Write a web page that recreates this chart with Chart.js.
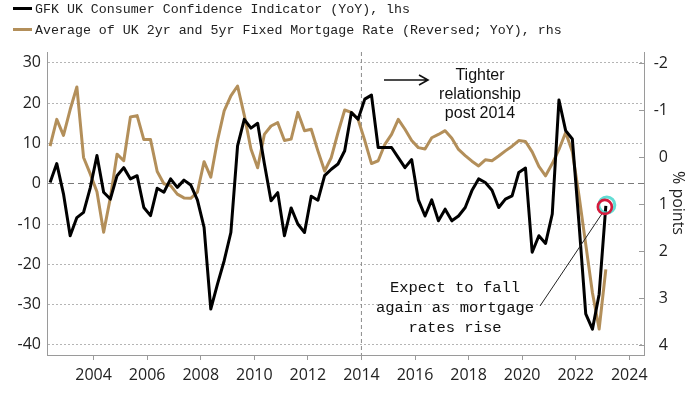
<!DOCTYPE html>
<html>
<head>
<meta charset="utf-8">
<title>GFK UK Consumer Confidence vs Mortgage Rates</title>
<script src="https://cdn.jsdelivr.net/npm/chart.js@4.4.0/dist/chart.umd.min.js"></script>
<style>
    html, body { margin: 0; padding: 0; background: #fff; }
    #wrap { position: relative; width: 700px; height: 394px; overflow: hidden; }
    #chart { position: absolute; left: 0; top: 0; }
    .legend { position: absolute; left: 13px; font: 13.3px "Liberation Mono", monospace; color: #222; white-space: nowrap; line-height: 16px; }
    .legend i { display: inline-block; width: 19px; height: 3px; vertical-align: middle; margin-right: 3px; position: relative; top: -1px; }
    .note { position: absolute; text-align: center; white-space: nowrap; color: #111; }
    #tighter { left: 400px; top: 65px; width: 160px; font: 16px "Liberation Sans", Arial, sans-serif; line-height: 19px; }
    #expect { left: 355px; top: 278px; width: 200px; font: 15.5px "Liberation Mono", monospace; line-height: 20px; }
    #units { position: absolute; left: 668px; top: 163px; width: 22px; height: 80px; writing-mode: vertical-rl; font: 16px "Open Sans", sans-serif; color: #222; line-height: 22px; text-align: center; white-space: nowrap; }
</style>
</head>
<body>
<div id="wrap">
    <canvas id="chart" width="700" height="394"></canvas>
    <div class="legend" style="top:2px"><i style="background:#000"></i>GFK UK Consumer Confidence Indicator (YoY), lhs</div>
    <div class="legend" style="top:23px"><i style="background:#b38f5a"></i>Average of UK 2yr and 5yr Fixed Mortgage Rate (Reversed; YoY), rhs</div>
    <div class="note" id="tighter">Tighter<br>relationship<br>post 2014</div>
    <div class="note" id="expect">Expect to fall<br>again as mortgage<br>rates rise</div>
    <div id="units">% points</div>
</div>
<script>
// --- DATA (quarterly, from 2002 Q2) ---
const firstQuarter = 2002.375;

// GFK consumer confidence, YoY change (lhs)
const confidence = [
    0.3, 5, -2.5, -12.9, -8.4, -7.1, -1, 7, -2.1, -3.8,
    2, 4, 1.2, 2, -5.9, -7.9, -1.1, -2.1, 1.2, -0.9,
    0.9, -0.3, -4, -10.8, -31.1, -24.9, -19.1, -12.1, 9.4, 16,
    13.8, 15, 5, -4.2, -2.2, -12.9, -6, -10, -12.1, -3.1,
    -4.1, 2, 3.6, 4.9, 8.2, 17.7, 16, 21, 22, 9,
    9, 9, 6.5, 4, 6, -4, -8, -4, -9.2, -6.3,
    -9.2, -8, -5.9, -1.7, 1.2, 0.3, -1.6, -5.9, -3.8, -3,
    2.8, 3.9, -17, -12.9, -14.8, -7.5, 20.8, 13.2, 11.1, -10,
    -32.3, -36.1, -27.4, -5.5
];

// Avg of 2yr and 5yr fixed mortgage rate, YoY change in % points (rhs, reversed)
const mortgage = [
    -0.23, -0.8, -0.46, -1.01, -1.49, 0.01, 0.36, 0.74, 1.6, 0.87,
    -0.06, 0.08, -0.85, -0.88, -0.37, -0.37, 0.31, 0.57, 0.61, 0.79,
    0.87, 0.88, 0.75, 0.10, 0.43, -0.35, -0.98, -1.30, -1.51, -0.89,
    -0.17, 0.23, -0.48, -0.66, -0.73, -0.35, -0.38, -0.95, -0.56, -0.59,
    -0.13, 0.30, 0.01, -0.52, -1.0, -0.95, -0.8, -0.35, 0.14, 0.08,
    -0.27, -0.48, -0.8, -0.59, -0.35, -0.2, -0.17, -0.41, -0.48, -0.56,
    -0.40, -0.16, -0.03, 0.09, 0.19, 0.06, 0.08, -0.02, -0.13, -0.23,
    -0.35, -0.33, -0.11, 0.20, 0.40, 0.14, -0.16, -0.52, -0.11, 0.83,
    1.86, 2.89, 3.66, 2.39
];

const xTicks = [2004, 2006, 2008, 2010, 2012, 2014, 2016, 2018, 2020, 2022, 2024];
const leftTicks = [30, 20, 10, 0, -10, -20, -30, -40];
const rightTicks = [-2, -1, 0, 1, 2, 3, 4];
const splitYear = 2014;

const BLACK = '#000000';
const GOLD = '#b38f5a';
const AXIS = '#9a9a9a';
const tickFont = { family: '"Open Sans", sans-serif', size: 16 };

const quarterDates = confidence.map((_, i) => firstQuarter + i * 0.25);
const toPoints = (values) => values.map((v, i) => ({ x: quarterDates[i], y: v }));

// --- extra drawing: 2014 divider, inward rhs ticks, arrow, highlight circle ---
const decorations = {
    id: 'decorations',
    beforeDatasetsDraw(chart) {
        const { ctx, chartArea, scales } = chart;
        const x = scales.x.getPixelForValue(splitYear);
        ctx.save();
        ctx.strokeStyle = '#8c8c8c';
        ctx.lineWidth = 1;
        ctx.setLineDash([4, 3]);
        ctx.beginPath();
        ctx.moveTo(x, chartArea.top);
        ctx.lineTo(x, chartArea.bottom);
        ctx.stroke();
        ctx.restore();
    },
    afterDraw(chart) {
        const { ctx, chartArea, scales } = chart;
        ctx.save();

        // small inward tick marks on the right axis
        ctx.strokeStyle = AXIS;
        ctx.lineWidth = 1;
        rightTicks.forEach(v => {
            const y = Math.round(scales.y1.getPixelForValue(v)) + 0.5;
            ctx.beginPath();
            ctx.moveTo(chartArea.right - 5, y);
            ctx.lineTo(chartArea.right, y);
            ctx.stroke();
        });

        // arrow next to "Tighter relationship"
        ctx.strokeStyle = '#111';
        ctx.lineWidth = 1.6;
        ctx.beginPath();
        ctx.moveTo(384, 80);
        ctx.lineTo(428, 80);
        ctx.moveTo(419, 75);
        ctx.lineTo(428, 80);
        ctx.lineTo(419, 85);
        ctx.stroke();

        // highlight on the latest confidence reading
        const last = confidence.length - 1;
        const cx = scales.x.getPixelForValue(quarterDates[last]) - 1;
        const cy = scales.y.getPixelForValue(confidence[last]) + 1;

        // leader line to the annotation text
        ctx.strokeStyle = '#222';
        ctx.lineWidth = 1;
        ctx.beginPath();
        ctx.moveTo(540, 306);
        ctx.lineTo(cx - 3, cy + 7);
        ctx.stroke();

        ctx.strokeStyle = 'rgba(70, 215, 205, 0.85)';
        ctx.lineWidth = 3;
        ctx.beginPath();
        ctx.arc(cx + 2, cy - 2, 8, 0, Math.PI * 2);
        ctx.stroke();

        ctx.strokeStyle = '#d61a3c';
        ctx.lineWidth = 2.6;
        ctx.beginPath();
        ctx.arc(cx, cy, 7, 0, Math.PI * 2);
        ctx.stroke();

        ctx.restore();
    }
};

const gridDash = (ctx) => {
    if (!ctx.tick) return [];
    return ctx.tick.value === 0 ? [6, 4] : [2, 2];
};

new Chart(document.getElementById('chart'), {
    type: 'line',
    data: {
        datasets: [
            {
                label: 'GFK UK Consumer Confidence Indicator (YoY), lhs',
                data: toPoints(confidence),
                yAxisID: 'y',
                borderColor: BLACK,
                backgroundColor: BLACK,
                borderWidth: 3,
                borderJoinStyle: 'round',
                pointRadius: 0,
                tension: 0
            },
            {
                label: 'Average of UK 2yr and 5yr Fixed Mortgage Rate (Reversed; YoY), rhs',
                data: toPoints(mortgage),
                yAxisID: 'y1',
                borderColor: GOLD,
                backgroundColor: GOLD,
                borderWidth: 3,
                borderJoinStyle: 'round',
                pointRadius: 0,
                tension: 0
            }
        ]
    },
    options: {
        responsive: false,
        animation: false,
        devicePixelRatio: 1,
        layout: { padding: { top: 52, left: 0, right: 32, bottom: 0 } },
        plugins: {
            legend: { display: false },
            tooltip: { enabled: false }
        },
        scales: {
            x: {
                type: 'linear',
                min: 2002.26,
                max: 2024.55,
                afterBuildTicks: s => { s.ticks = xTicks.map(v => ({ value: v })); },
                afterFit: s => { s.height = 39; },
                grid: { drawOnChartArea: false, drawTicks: true, tickLength: 5, color: AXIS },
                border: { color: AXIS },
                ticks: {
                    autoSkip: false,
                    maxRotation: 0,
                    padding: 6,
                    color: '#222',
                    font: tickFont,
                    callback: v => String(v)
                }
            },
            y: {
                position: 'left',
                min: -42.5,
                max: 32.7,
                afterBuildTicks: s => { s.ticks = leftTicks.map(v => ({ value: v })); },
                afterFit: s => { s.width = 47; },
                grid: {
                    drawTicks: false,
                    lineWidth: 1,
                    color: ctx => (ctx.tick && ctx.tick.value === 0) ? '#7a7a7a' : '#b5b5b5'
                },
                border: { color: AXIS, dash: gridDash },
                ticks: {
                    padding: 6,
                    color: '#222',
                    font: tickFont,
                    callback: v => String(v)
                }
            },
            y1: {
                position: 'right',
                reverse: true,
                min: -2.234,
                max: 4.213,
                afterBuildTicks: s => { s.ticks = rightTicks.map(v => ({ value: v })); },
                afterFit: s => { s.width = 24; },
                grid: { drawOnChartArea: false, drawTicks: false },
                border: { color: AXIS },
                ticks: {
                    padding: 6,
                    crossAlign: 'far',
                    color: '#222',
                    font: tickFont,
                    callback: v => String(v)
                }
            }
        }
    },
    plugins: [decorations]
});
</script>
</body>
</html>
